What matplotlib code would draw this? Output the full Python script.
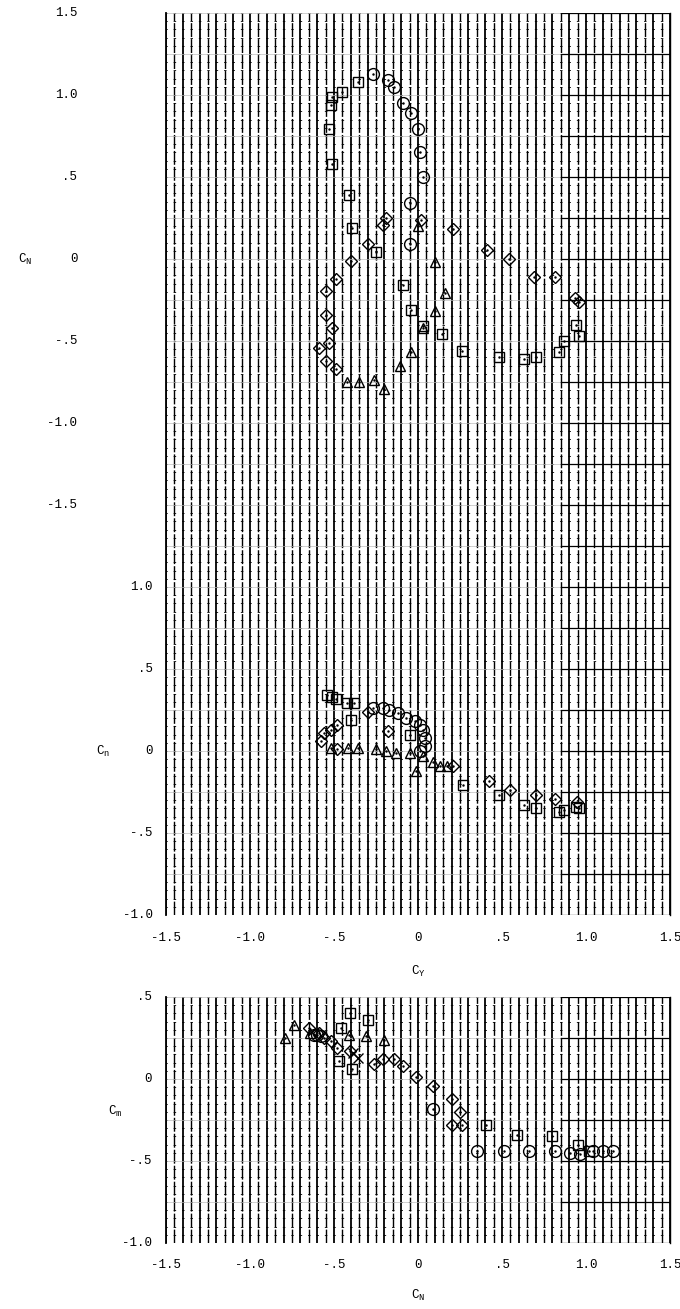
import numpy as np
import matplotlib
matplotlib.use("Agg")
import matplotlib.pyplot as plt
from matplotlib.transforms import blended_transform_factory

plt.rcParams['font.family'] = ['Liberation Mono', 'DejaVu Sans Mono']
plt.rcParams['mathtext.default'] = 'regular'
plt.rcParams['lines.scale_dashes'] = False

# ---- C_N against C_Y (upper part of the sheet)
N_circ_cy = [-0.27, -0.18, -0.14, -0.09, -0.04, 0.00, 0.01, 0.03, -0.05, -0.05]
N_circ_cN = [1.13, 1.09, 1.05, 0.95, 0.89, 0.79, 0.65, 0.50, 0.34, 0.09]
N_sq_cy = [-0.36, -0.45, -0.51, -0.52, -0.53, -0.51, -0.41, -0.39, -0.25, -0.09, -0.04,
           0.03, 0.14, 0.26, 0.48, 0.63, 0.70, 0.84, 0.87, 0.94, 0.96]
N_sq_cN = [1.08, 1.02, 0.99, 0.94, 0.79, 0.58, 0.39, 0.19, 0.04, -0.16, -0.31,
           -0.41, -0.46, -0.56, -0.60, -0.61, -0.60, -0.57, -0.50, -0.40, -0.47]
N_dia_cy = [-0.19, -0.21, 0.02, 0.21, -0.30, -0.40, 0.41, 0.54, 0.69, 0.815, 0.935, 0.96,
            -0.49, -0.55, -0.55, -0.51, -0.53, -0.59, -0.55, -0.49]
N_dia_cN = [0.25, 0.21, 0.24, 0.18, 0.09, -0.01, 0.055, 0.00, -0.11, -0.11, -0.24, -0.26,
            -0.12, -0.195, -0.34, -0.42, -0.51, -0.545, -0.62, -0.67]
N_tri_cy = [0.00, 0.10, 0.16, 0.10, 0.03, -0.04, -0.11, -0.20, -0.26, -0.35, -0.42]
N_tri_cN = [0.20, -0.02, -0.205, -0.32, -0.42, -0.57, -0.65, -0.795, -0.74, -0.75, -0.75]

# ---- C_n against C_Y (middle part)
n_circ_cy = [-0.27, -0.21, -0.17, -0.12, -0.07, -0.02, 0.01, 0.03, 0.04, 0.04, 0.01]
n_circ_cn = [0.26, 0.26, 0.25, 0.23, 0.20, 0.18, 0.16, 0.13, 0.08, 0.03, 0.00]
n_sq_cy = [-0.54, -0.51, -0.49, -0.42, -0.38, -0.40, -0.05, 0.27, 0.48, 0.63, 0.70, 0.84, 0.87, 0.94, 0.96]
n_sq_cn = [0.34, 0.33, 0.32, 0.29, 0.29, 0.19, 0.10, -0.21, -0.27, -0.33, -0.35, -0.37, -0.36, -0.34, -0.35]
n_dia_cy = [-0.56, -0.52, -0.48, -0.58, -0.48, -0.18, -0.30, 0.21, 0.42, 0.55, 0.70, 0.815, 0.945]
n_dia_cn = [0.11, 0.13, 0.16, 0.06, 0.01, 0.12, 0.24, -0.09, -0.18, -0.24, -0.27, -0.29, -0.31]
n_tri_cy = [-0.52, -0.415, -0.355, -0.25, -0.19, -0.13, -0.05, -0.01, 0.03, 0.09, 0.13, 0.17]
n_tri_cn = [0.02, 0.02, 0.02, 0.01, 0.00, -0.01, -0.01, -0.12, -0.03, -0.07, -0.09, -0.09]

# ---- C_m against C_N (lower sheet)
m_tri_cN = [-0.79, -0.74, -0.64, -0.41, -0.31, -0.20]
m_tri_cm = [0.25, 0.33, 0.28, 0.27, 0.26, 0.24]
m_dia_cN = [-0.65, -0.59, -0.56, -0.52, -0.48, -0.405, -0.26, -0.21, -0.14, -0.09, -0.01,
            0.09, 0.20, 0.25, 0.20, 0.26]
m_dia_cm = [0.31, 0.28, 0.25, 0.23, 0.19, 0.17, 0.09, 0.12, 0.12, 0.08, 0.01,
            -0.045, -0.12, -0.20, -0.28, -0.28]
m_circ_cN = [-0.62, -0.60, -0.58, 0.09, 0.35, 0.51, 0.66, 0.815, 0.905, 0.965, 1.04, 1.10, 1.16]
m_circ_cm = [0.27, 0.27, 0.26, -0.18, -0.44, -0.44, -0.44, -0.44, -0.45, -0.46, -0.44, -0.44, -0.44]
m_sq_cN = [-0.47, -0.395, -0.46, -0.405, -0.30, 0.405, 0.59, 0.795, 0.955, 1.02]
m_sq_cm = [0.11, 0.06, 0.31, 0.40, 0.36, -0.28, -0.34, -0.345, -0.40, -0.44]
m_x_cN = [-0.385, -0.36]
m_x_cm = [0.16, 0.13]

x_ticks = [-1.5, -1.0, -0.5, 0, 0.5, 1.0, 1.5]
x_labels = ['-1.5', '-1.0', '-.5', '0', '.5', '1.0', '1.5']
CN_ticks = [1.5, 1.0, 0.5, 0, -0.5, -1.0, -1.5]
CN_labels = ['1.5', '1.0', '.5', '0', '-.5', '-1.0', '-1.5']
Cn_ticks = [1.0, 0.5, 0, -0.5, -1.0]
Cn_labels = ['1.0', '.5', '0', '-.5', '-1.0']
Cm_ticks = [0.5, 0, -0.5, -1.0]
Cm_labels = ['.5', '0', '-.5', '-1.0']

# both upper plots share one sheet of graph paper
OFF_N = 4.0   # C_N drawn at C_N + 4
OFF_n = 1.0   # C_n drawn at C_n + 1

# one grid step (0.05) is 8.4 px = 6.048 pt; the horizontal rulings are drawn
# as short dashes centred on the vertical ones, giving the "+" crossings
STEP_PT = 504 / 60 * 0.72
DASH = 1.8
CROSS = (DASH / 2, (DASH, STEP_PT - DASH))


def graph_paper(ax, y0, y1):
    for i, x in enumerate(np.arange(-1.5, 1.5001, 0.05)):
        if i % 2 == 0:
            ax.axvline(x, color='black', lw=1.3, zorder=1)
        else:
            ax.axvline(x, color='black', lw=1.0, ls=(0, (10, 1.5)), zorder=1)
    for y in np.arange(y0, y1 + 0.001, 0.05):
        ax.axhline(y, color='black', lw=0.6, ls=CROSS, zorder=1)
    for y in np.arange(y0, y1 + 0.001, 0.25):
        ax.axhline(y, color='0.75', lw=0.5, zorder=1)
        ax.plot([0.85, 1.5], [y, y], color='black', lw=0.9, zorder=1)
    ax.set_xlim(-1.5, 1.5)
    ax.set_ylim(y0, y1)
    ax.set_xticks([])
    ax.set_yticks([])
    for s in ['top', 'bottom']:
        ax.spines[s].set_visible(False)
    ax.spines['left'].set_linewidth(1.3)
    ax.spines['right'].set_linewidth(1.0)


def pts(ax, x, y, marker, ms, off=0.0):
    yy = np.array(y) + off
    ax.plot(x, yy, ls='none', marker=marker, ms=ms, mfc='none', mec='black', mew=1.0, zorder=3)
    ax.plot(x, yy, ls='none', marker='.', ms=1.5, color='black', zorder=3)


fig = plt.figure(figsize=(6.8, 13.09), dpi=100)
ax1 = fig.add_axes([166 / 680, 1 - 915 / 1309, 504 / 680, 902 / 1309])
ax2 = fig.add_axes([166 / 680, 1 - 1243 / 1309, 504 / 680, 246 / 1309])

graph_paper(ax1, 0.0, 5.5)
graph_paper(ax2, -1.0, 0.5)

# upper: C_N
pts(ax1, N_circ_cy, N_circ_cN, 'o', 8.5, OFF_N)
pts(ax1, N_sq_cy, N_sq_cN, 's', 7, OFF_N)
pts(ax1, N_dia_cy, N_dia_cN, 'D', 6.5, OFF_N)
pts(ax1, N_tri_cy, N_tri_cN, '^', 7.5, OFF_N)
# middle: C_n
pts(ax1, n_circ_cy, n_circ_cn, 'o', 8.5, OFF_n)
pts(ax1, n_sq_cy, n_sq_cn, 's', 7, OFF_n)
pts(ax1, n_dia_cy, n_dia_cn, 'D', 6.5, OFF_n)
pts(ax1, n_tri_cy, n_tri_cn, '^', 7.5, OFF_n)
# lower: C_m
pts(ax2, m_tri_cN, m_tri_cm, '^', 7.5)
pts(ax2, m_dia_cN, m_dia_cm, 'D', 6.5)
pts(ax2, m_circ_cN, m_circ_cm, 'o', 8.5)
pts(ax2, m_sq_cN, m_sq_cm, 's', 7)
ax2.plot(m_x_cN, m_x_cm, ls='none', marker='x', ms=7, mec='black', mew=1.0, zorder=3)

fs = 9
t1 = blended_transform_factory(ax1.transAxes, ax1.transData)
for v, s in zip(CN_ticks, CN_labels):
    ax1.text(-0.176, v + OFF_N, s, transform=t1, ha='right', va='center', fontsize=fs)
ax1.text(-0.28, OFF_N, '$C_N$', transform=t1, ha='center', va='center', fontsize=fs)
for v, s in zip(Cn_ticks, Cn_labels):
    ax1.text(-0.026, v + OFF_n, s, transform=t1, ha='right', va='center', fontsize=fs)
ax1.text(-0.125, OFF_n, '$C_n$', transform=t1, ha='center', va='center', fontsize=fs)

t2 = blended_transform_factory(ax2.transAxes, ax2.transData)
for v, s in zip(Cm_ticks, Cm_labels):
    ax2.text(-0.028, v, s, transform=t2, ha='right', va='center', fontsize=fs)
ax2.text(-0.10, -0.2, '$C_m$', transform=t2, ha='center', va='center', fontsize=fs)

tx1 = blended_transform_factory(ax1.transData, ax1.transAxes)
for v, s in zip(x_ticks, x_labels):
    ax1.text(v, -0.026, s, transform=tx1, ha='center', va='center', fontsize=fs)
ax1.text(0, -0.063, '$C_Y$', transform=tx1, ha='center', va='center', fontsize=fs)

tx2 = blended_transform_factory(ax2.transData, ax2.transAxes)
for v, s in zip(x_ticks, x_labels):
    ax2.text(v, -0.09, s, transform=tx2, ha='center', va='center', fontsize=fs)
ax2.text(0, -0.215, '$C_N$', transform=tx2, ha='center', va='center', fontsize=fs)

fig.savefig('out.png', dpi=100)
